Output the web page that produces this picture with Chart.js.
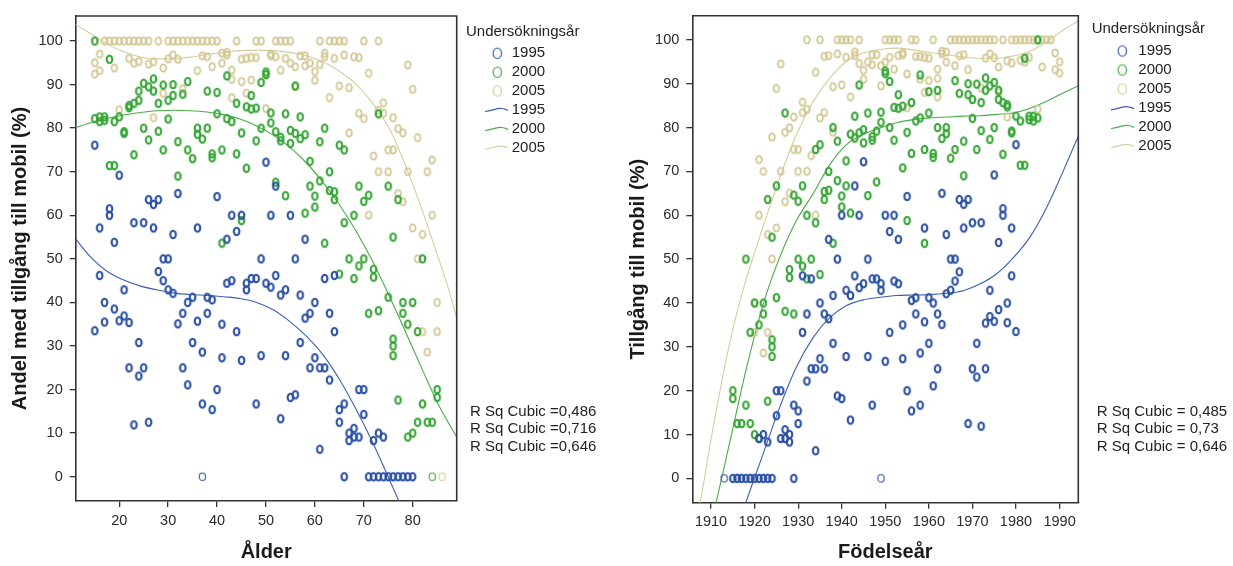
<!DOCTYPE html>
<html>
<head>
<meta charset="utf-8">
<script src="https://cdn.jsdelivr.net/npm/chart.js@4.4.1/dist/chart.umd.min.js"></script>
<style>
  body { margin: 0; background: #fff; }
  #wrap { position: relative; width: 1233px; height: 566px; }
  #ageChart { position: absolute; left: 0; top: 0; }
  #yearChart { position: absolute; left: 620px; top: 0; }
</style>
</head>
<body>
<div id="wrap">
  <canvas id="ageChart" width="620" height="566" style="width:620px;height:566px"></canvas>
  <canvas id="yearChart" width="613" height="566" style="width:613px;height:566px"></canvas>
</div>
<script>
// survey years and their fit statistics
const surveyYears = ['1995', '2000', '2005'];
const rsqAge = ['R Sq Cubic =0,486', 'R Sq Cubic =0,716', 'R Sq Cubic =0,646'];
const rsqYear = ['R Sq Cubic = 0,485', 'R Sq Cubic = 0,73', 'R Sq Cubic = 0,646'];

const ageTicks = [20, 30, 40, 50, 60, 70, 80];
const yearTicks = [1910, 1920, 1930, 1940, 1950, 1960, 1970, 1980, 1990];
const shareTicks = [0, 10, 20, 30, 40, 50, 60, 70, 80, 90, 100];

// [age, share %]
const blueAge = [[15,76.1],[15,33.5],[16,57.1],[16,46.2],[17,40],[17,35.5],[18,61.5],[18,60],[19,53.8],[19,38.5],[20,69.2],[20,35.8],[21,42.9],[21,36.9],[22,35.4],[22,25],[23,58.3],[23,11.9],[24,30.8],[24,23.1],[25,58.3],[25,25],[26,63.6],[26,12.5],[27,62.5],[27,57.1],[28,63.6],[28,47.1],[29,50],[29,45],[30,50],[30,42.9],[31,55.6],[31,42.1],[32,65],[32,35.1],[33,37.5],[33,25],[34,40],[34,21.1],[35,41.2],[35,30.8],[36,57.1],[36,35.7],[37,28.6],[37,16.7],[38,41.2],[38,37.5],[39,40.6],[39,15.4],[40,64.3],[40,20],[41,35],[41,27.3],[42,54.5],[42,44.4],[43,60],[43,45],[44,56.3],[44,33.3],[45,60],[45,26.7],[46,44.4],[46,42.9],[47,45.5],[48,45.5],[48,16.7],[49,50],[49,27.8],[50,72.2],[50,44.4],[51,60],[51,43.5],[52,66.7],[52,46.2],[53,41.7],[53,13.3],[54,42.9],[54,27.8],[55,60],[55,18.2],[56,50],[56,18.8],[57,41.7],[57,30.8],[58,54.5],[58,36.4],[59,37.5],[59,25],[60,40],[60,27.3],[61,25],[61,6.3],[62,45.5],[62,25],[63,37.5],[63,22.2],[64,46.2],[64,33.3],[65,15.4],[65,12.5],[66,16.7],[66,0],[67,10],[67,8.3],[68,11.1],[68,9.1],[69,20],[69,9.1],[70,20],[70,14.3],[71,0],[72,8.3],[72,0],[73,10],[73,0],[74,9.1],[74,0],[75,0],[76,0],[77,0],[78,0],[79,0],[80,0]];
const greenAge = [[15,100],[15,82.2],[16,82.6],[16,81.5],[17,82.6],[17,81.8],[18,95.8],[18,71.4],[19,81.5],[19,71.4],[20,82.6],[21,79.2],[21,78.8],[22,84.7],[22,85.2],[23,85.7],[23,73.9],[24,86.4],[24,88.5],[25,90.3],[25,80],[26,89.5],[26,77.3],[27,91.3],[27,88.5],[28,85.7],[28,79.3],[29,89.9],[29,75],[30,86.4],[30,82.1],[31,90],[31,87.5],[32,69],[32,76.9],[33,87.8],[34,90.7],[34,75],[35,73],[36,78.6],[36,80],[37,77.5],[38,88.5],[38,80],[39,74.1],[39,73.2],[40,88.2],[40,83.3],[41,75],[41,53.6],[42,82.2],[42,92],[43,81.5],[44,85.7],[44,74.1],[45,78.9],[45,58.8],[46,70.8],[46,84.9],[47,87.5],[47,84.4],[48,84.6],[48,77.1],[49,80],[49,90.5],[50,92.9],[50,92.3],[51,83.5],[51,81.2],[52,79.2],[52,67.6],[53,77.9],[53,77.1],[54,83.3],[54,64.5],[55,79.5],[55,76.5],[56,89.7],[56,78.8],[57,82.6],[57,77.6],[58,78.5],[58,60.5],[59,72.4],[59,66.7],[60,64.4],[60,61.9],[61,67.9],[61,76.9],[62,80],[62,53.6],[63,70],[63,65.7],[64,65.4],[64,63.6],[65,76.1],[65,46.5],[66,75],[66,58.3],[67,50],[68,60],[68,45.5],[69,66.7],[69,48.4],[70,63.2],[70,50],[71,64.6],[71,37.5],[72,47.6],[72,45.8],[73,83.3],[73,38.1],[75,66.7],[75,41.2],[76,55],[76,31.6],[76,30],[76,27.8],[77,63.6],[77,17.6],[78,40],[78,37.5],[79,35],[79,9.1],[80,40],[80,10],[81,33.3],[81,12.5],[82,50],[82,16.7],[83,12.5],[84,12.5],[85,20],[85,18.2]];
const tanAge = [[17,100],[18,100],[19,100],[20,100],[21,100],[22,100],[23,100],[24,100],[25,100],[26,100],[28,100],[30,100],[31,100],[32,100],[33,100],[34,100],[35,100],[36,100],[37,100],[38,100],[39,100],[40,100],[44,100],[48,100],[49,100],[52,100],[53,100],[54,100],[55,100],[61,100],[63,100],[64,100],[65,100],[66,100],[70,100],[73,100],
  [15,95],[15,92.4],[16,97],[16,93.2],[19,93.8],[20,84.2],[22,96],[23,94.9],[24,95.3],[26,94.7],[27,95.2],[27,82.4],[29,93.8],[29,88],[30,95.9],[31,96.8],[32,95.8],[33,89],[36,93.2],[37,96.6],[38,96.4],[39,94.1],[41,94.9],[41,97.2],[42,97.4],[42,96.8],[43,93.3],[43,91.2],[43,87],[45,90.7],[45,95.8],[46,96],[46,88],[47,96.2],[47,91],[48,96.2],[50,84.5],[50,92.2],[51,96.6],[51,97],[52,96.4],[53,93.3],[54,96],[55,94.9],[56,94.1],[56,89.5],[57,96.6],[58,96.6],[58,94.3],[59,94.9],[60,93],[60,91],[61,94.6],[62,97.2],[62,96.4],[63,87],[64,96],[65,89.7],[66,96.8],[67,89.3],[67,78.9],[68,96.4],[69,96.2],[69,83.4],[70,82.2],[71,92.6],[71,60],[72,73.6],[73,70],[73,84.1],[74,85.8],[74,83.4],[75,75],[75,70],[76,75],[76,82.4],[77,79.9],[77,65],[78,78.9],[78,63.1],[79,94.5],[79,70],[80,88.9],[80,57.1],[81,77.8],[81,50],[82,55.6],[82,33.3],[83,70],[83,28.6],[84,72.7],[84,60],[85,40],[85,33.3]];
// single answers drawn with a thin ring
const thinAge = [[[37,0]], [[84,0]], [[86,0]]];

// [birth year, share %]
const blueYear = [[1980,76.1],[1980,33.5],[1979,57.1],[1979,46.2],[1978,40],[1978,35.5],[1977,61.5],[1977,60],[1976,53.8],[1976,38.5],[1975,69.2],[1975,35.8],[1974,42.9],[1974,36.9],[1973,35.4],[1973,25],[1972,58.3],[1972,11.9],[1971,30.8],[1971,23.1],[1970,58.3],[1970,25],[1969,63.6],[1969,12.5],[1968,62.5],[1968,57.1],[1967,63.6],[1967,47.1],[1966,50],[1966,45],[1965,50],[1965,42.9],[1964,55.6],[1964,42.1],[1963,65],[1963,35.1],[1962,37.5],[1962,25],[1961,40],[1961,21.1],[1960,41.2],[1960,30.8],[1959,57.1],[1959,35.7],[1958,28.6],[1958,16.7],[1957,41.2],[1957,37.5],[1956,40.6],[1956,15.4],[1955,64.3],[1955,20],[1954,35],[1954,27.3],[1953,54.5],[1953,44.4],[1952,60],[1952,45],[1951,56.3],[1951,33.3],[1950,60],[1950,26.7],[1949,44.4],[1949,42.9],[1948,45.5],[1947,45.5],[1947,16.7],[1946,50],[1946,27.8],[1945,72.2],[1945,44.4],[1944,60],[1944,43.5],[1943,66.7],[1943,46.2],[1942,41.7],[1942,13.3],[1941,42.9],[1941,27.8],[1940,60],[1940,18.2],[1939,50],[1939,18.8],[1938,41.7],[1938,30.8],[1937,54.5],[1937,36.4],[1936,37.5],[1936,25],[1935,40],[1935,27.3],[1934,25],[1934,6.3],[1933,45.5],[1933,25],[1932,37.5],[1932,22.2],[1931,46.2],[1931,33.3],[1930,15.4],[1930,12.5],[1929,16.7],[1929,0],[1928,10],[1928,8.3],[1927,11.1],[1927,9.1],[1926,20],[1926,9.1],[1925,20],[1925,14.3],[1924,0],[1923,8.3],[1923,0],[1922,10],[1922,0],[1921,9.1],[1921,0],[1920,0],[1919,0],[1918,0],[1917,0],[1916,0],[1915,0]];
const greenYear = [[1985,100],[1985,82.2],[1984,82.6],[1984,81.5],[1983,82.6],[1983,81.8],[1982,95.8],[1982,71.4],[1981,81.5],[1981,71.4],[1980,82.6],[1979,79.2],[1979,78.8],[1978,84.7],[1978,85.2],[1977,85.7],[1977,73.9],[1976,86.4],[1976,88.5],[1975,90.3],[1975,80],[1974,89.5],[1974,77.3],[1973,91.3],[1973,88.5],[1972,85.7],[1972,79.3],[1971,89.9],[1971,75],[1970,86.4],[1970,82.1],[1969,90],[1969,87.5],[1968,69],[1968,76.9],[1967,87.8],[1966,90.7],[1966,75],[1965,73],[1964,78.6],[1964,80],[1963,77.5],[1962,88.5],[1962,80],[1961,74.1],[1961,73.2],[1960,88.2],[1960,83.3],[1959,75],[1959,53.6],[1958,82.2],[1958,92],[1957,81.5],[1956,85.7],[1956,74.1],[1955,78.9],[1955,58.8],[1954,70.8],[1954,84.9],[1953,87.5],[1953,84.4],[1952,84.6],[1952,77.1],[1951,80],[1951,90.5],[1950,92.9],[1950,92.3],[1949,83.5],[1949,81.2],[1948,79.2],[1948,67.6],[1947,77.9],[1947,77.1],[1946,83.3],[1946,64.5],[1945,79.5],[1945,76.5],[1944,89.7],[1944,78.8],[1943,82.6],[1943,77.6],[1942,78.5],[1942,60.5],[1941,72.4],[1941,66.7],[1940,64.4],[1940,61.9],[1939,67.9],[1939,76.9],[1938,80],[1938,53.6],[1937,70],[1937,65.7],[1936,65.4],[1936,63.6],[1935,76.1],[1935,46.5],[1934,75],[1934,58.3],[1933,50],[1932,60],[1932,45.5],[1931,66.7],[1931,48.4],[1930,63.2],[1930,50],[1929,64.6],[1929,37.5],[1928,47.6],[1928,45.8],[1927,83.3],[1927,38.1],[1925,66.7],[1925,41.2],[1924,55],[1924,31.6],[1924,30],[1924,27.8],[1923,63.6],[1923,17.6],[1922,40],[1922,37.5],[1921,35],[1921,9.1],[1920,40],[1920,10],[1919,33.3],[1919,12.5],[1918,50],[1918,16.7],[1917,12.5],[1916,12.5],[1915,20],[1915,18.2]];
const tanYear = [[1988,100],[1987,100],[1986,100],[1985,100],[1984,100],[1983,100],[1982,100],[1981,100],[1980,100],[1979,100],[1977,100],[1975,100],[1974,100],[1973,100],[1972,100],[1971,100],[1970,100],[1969,100],[1968,100],[1967,100],[1966,100],[1965,100],[1961,100],[1957,100],[1956,100],[1953,100],[1952,100],[1951,100],[1950,100],[1944,100],[1942,100],[1941,100],[1940,100],[1939,100],[1935,100],[1932,100],
  [1990,95],[1990,92.4],[1989,97],[1989,93.2],[1986,93.8],[1985,84.2],[1983,96],[1982,94.9],[1981,95.3],[1979,94.7],[1978,95.2],[1978,82.4],[1976,93.8],[1976,88],[1975,95.9],[1974,96.8],[1973,95.8],[1972,89],[1969,93.2],[1968,96.6],[1967,96.4],[1966,94.1],[1964,94.9],[1964,97.2],[1963,97.4],[1963,96.8],[1962,93.3],[1962,91.2],[1962,87],[1960,90.7],[1960,95.8],[1959,96],[1959,88],[1958,96.2],[1958,91],[1957,96.2],[1955,84.5],[1955,92.2],[1954,96.6],[1954,97],[1953,96.4],[1952,93.3],[1951,96],[1950,94.9],[1949,94.1],[1949,89.5],[1948,96.6],[1947,96.6],[1947,94.3],[1946,94.9],[1945,93],[1945,91],[1944,94.6],[1943,97.2],[1943,96.4],[1942,87],[1941,96],[1940,89.7],[1939,96.8],[1938,89.3],[1938,78.9],[1937,96.4],[1936,96.2],[1936,83.4],[1935,82.2],[1934,92.6],[1934,60],[1933,73.6],[1932,70],[1932,84.1],[1931,85.8],[1931,83.4],[1930,75],[1930,70],[1929,75],[1929,82.4],[1928,79.9],[1928,65],[1927,78.9],[1927,63.1],[1926,94.5],[1926,70],[1925,88.9],[1925,57.1],[1924,77.8],[1924,50],[1923,55.6],[1923,33.3],[1922,70],[1922,28.6],[1921,72.7],[1921,60],[1920,40],[1920,33.3]];
const thinYear = [[[1913,0],[1949,0]], [[1916,0]], [[1919,0]]];

// cubic fit curves, read along x
const blueFitAge = [[11.1,54.6],[14,50.6],[17.4,47.2],[20.8,45.2],[24.2,43.8],[27.6,42.9],[31,42.2],[34.5,41.8],[38,41.6],[41.3,41.3],[44.7,40.9],[48.1,40],[51.5,38.3],[54.9,35.6],[58.3,32.2],[61.7,27.9],[65.1,22.2],[68.5,15.3],[71.9,7.7],[75.3,-0.8],[77.1,-5.4],[78,-7.6]];
const greenFitAge = [[11.1,80.1],[14,81.2],[17.4,82.2],[20.8,83],[24.2,83.6],[27.6,84],[31,84.1],[34.5,84],[37.9,83.7],[41.3,83.1],[44.7,82.1],[48.1,80.5],[51.5,78.4],[54.9,75.6],[58.3,72],[61.7,67.5],[65.1,62.3],[68.5,56.2],[71.9,49.2],[75.4,41],[78.8,32.6],[82.2,24],[85.6,15.8],[89,9.1]];
const tanFitAge = [[11.1,103.8],[14,101.8],[17.4,99.4],[20.8,97.6],[24.2,96.4],[27.6,95.9],[31,95.9],[34.5,96.3],[37.9,96.9],[41.3,97.4],[44.7,97.8],[48.1,97.9],[51.5,97.8],[54.9,97.4],[58.3,96.6],[61.7,95.2],[65.1,93],[68.5,90],[71.5,86.2],[75.4,79.5],[79.2,69.5],[82,61],[84.4,53],[86.8,45],[89,36.5]];
const blueFitYear = [[1916.5,-10],[1918.2,-4.9],[1922,5.7],[1925.8,16.3],[1929.6,25.4],[1933.5,32.2],[1937.3,36.7],[1941.1,39.4],[1944.9,40.7],[1948.8,41.3],[1952.6,41.7],[1956.4,41.8],[1960.2,41.9],[1964,42.2],[1967.9,42.8],[1971.7,44.3],[1975.5,46.6],[1979.3,50.2],[1983.2,55],[1987,61.7],[1990.8,70],[1994.3,78]];
const greenFitYear = [[1910,-10],[1911.3,-4.9],[1914.4,8.7],[1918.2,25.4],[1922,39.8],[1925.8,50.5],[1929.6,58.8],[1933.5,65],[1937.3,71.6],[1941.1,76.1],[1944.9,78.4],[1948.8,79.9],[1952.6,81.1],[1956.4,81.8],[1960.2,82.2],[1964,82.4],[1967.9,82.6],[1971.7,82.7],[1975.5,83],[1979.3,83.3],[1983.2,84.4],[1987,86],[1990.8,87.9],[1994.3,89.5]];
const tanFitYear = [[1906.5,-10],[1907.6,-4.9],[1910.5,11.7],[1914.4,31.4],[1917.5,43.5],[1920.5,53],[1925.8,68.6],[1929.6,78.4],[1933.5,86],[1937.3,91.3],[1941.1,95.1],[1944.9,97],[1948.8,97.8],[1952.6,98.1],[1956.4,97.7],[1960.2,97.1],[1964,96.6],[1967.9,96.1],[1971.7,95.8],[1975.5,95.8],[1979.3,96.3],[1983.2,97.4],[1987,99.5],[1990.8,102.2],[1994.3,104.3]];

const pointColors = ['#2a50a4', '#36a636', '#d2c792'];
const lineColors = ['#3c5fb2', '#47ad47', '#d7cd9e'];
const FONT = '"Liberation Sans", Arial, sans-serif';

// open elliptic marker, slightly taller than wide
function ring(color, lw, rx, ry) {
  const c = document.createElement('canvas');
  c.width = Math.round(rx * 2 + lw + 3);
  c.height = Math.round(ry * 2 + lw + 3);
  const g = c.getContext('2d');
  g.strokeStyle = color;
  g.lineWidth = lw;
  g.beginPath();
  g.ellipse(c.width / 2, c.height / 2, rx, ry, 0, 0, Math.PI * 2);
  g.stroke();
  return c;
}
const boldRings = [ring(pointColors[0], 2.1, 2.8, 3.7), ring(pointColors[1], 2.1, 2.8, 3.7), ring(pointColors[2], 1.8, 2.8, 3.7)];
const thinRings = pointColors.map(c => ring(c, 1.1, 3.2, 3.8));
const keyRings = pointColors.map(c => ring(c, 1.1, 4.2, 5.3));

const toXY = arr => arr.map(p => ({ x: p[0], y: p[1] }));

function pointSet(data, style) {
  return { type: 'scatter', data: toXY(data), pointStyle: style, pointRadius: 4, showLine: false };
}
function fitSet(data, color) {
  return {
    type: 'line', data: toXY(data), borderColor: color, borderWidth: 1.1,
    pointRadius: 0, fill: false, cubicInterpolationMode: 'monotone'
  };
}

// top and right edges of the plot box
const frame = {
  id: 'frame',
  afterDatasetsDraw(chart) {
    const { ctx, chartArea: a } = chart;
    ctx.save();
    ctx.strokeStyle = '#333';
    ctx.lineWidth = 1.6;
    ctx.beginPath();
    ctx.moveTo(a.left, a.top);
    ctx.lineTo(a.right, a.top);
    ctx.lineTo(a.right, a.bottom);
    ctx.stroke();
    ctx.restore();
  }
};

function wave(ctx, x0, x1, y, color) {
  const w = x1 - x0;
  ctx.strokeStyle = color;
  ctx.lineWidth = 1.2;
  ctx.beginPath();
  ctx.moveTo(x0, y + 1.5);
  ctx.bezierCurveTo(x0 + w * 0.35, y + 0.5, x0 + w * 0.55, y - 2.5, x0 + w * 0.75, y - 1.5);
  ctx.quadraticCurveTo(x0 + w * 0.9, y - 1, x1, y + 0.5);
  ctx.stroke();
}

// legend and R-square notes beside the plot
const keyBox = {
  id: 'keyBox',
  afterDraw(chart, args, o) {
    const ctx = chart.ctx;
    ctx.save();
    ctx.font = '15px ' + FONT;
    ctx.fillStyle = '#222';
    ctx.textAlign = 'left';
    ctx.textBaseline = 'middle';
    ctx.fillText('Undersökningsår', o.titleX, o.titleY);
    surveyYears.forEach((yr, i) => {
      const r = keyRings[i];
      ctx.drawImage(r, o.ringX - r.width / 2, o.rows[i] - r.height / 2);
      ctx.fillText(yr, o.textX, o.rows[i]);
      wave(ctx, o.lineX0, o.lineX1, o.rows[i + 3], lineColors[i]);
      ctx.fillText(yr, o.textX, o.rows[i + 3]);
    });
    o.rsq.forEach((t, i) => ctx.fillText(t, o.rsqX, o.rsqY[i]));
    ctx.restore();
  }
};

function panel(id, p) {
  const tickFont = { family: FONT, size: 14.5 };
  const titleFont = { family: FONT, size: 20, weight: 'bold' };
  const datasets = [
    pointSet(p.points[0], boldRings[0]),
    pointSet(p.points[1], boldRings[1]),
    pointSet(p.points[2], boldRings[2]),
    pointSet(p.thin[0], thinRings[0]),
    pointSet(p.thin[1], thinRings[1]),
    pointSet(p.thin[2], thinRings[2]),
    fitSet(p.fits[0], lineColors[0]),
    fitSet(p.fits[1], lineColors[1]),
    fitSet(p.fits[2], lineColors[2])
  ];
  return new Chart(document.getElementById(id), {
    type: 'scatter',
    data: { datasets },
    options: {
      responsive: false,
      animation: false,
      events: [],
      layout: { padding: { left: 0, top: p.top, right: p.right, bottom: 0 } },
      plugins: { legend: { display: false }, tooltip: { enabled: false }, keyBox: p.key },
      scales: {
        x: {
          type: 'linear', min: p.xMin, max: p.xMax,
          afterBuildTicks: s => { s.ticks = p.xTicks.map(v => ({ value: v })); },
          afterFit: s => { s.height = p.xHeight; },
          grid: { display: true, drawOnChartArea: false, drawTicks: true, tickLength: 6, color: '#333', lineWidth: 1.3 },
          border: { display: true, color: '#333', width: 1.6 },
          ticks: { color: '#2b2b2b', font: tickFont, padding: 5, maxRotation: 0, autoSkip: false, callback: v => String(v) },
          title: { display: true, text: p.xTitle, color: '#1a1a1a', font: titleFont, padding: { top: 0, bottom: 2 } }
        },
        y: {
          type: 'linear', min: p.yMin, max: p.yMax,
          afterBuildTicks: s => { s.ticks = shareTicks.map(v => ({ value: v })); },
          afterFit: s => { s.width = p.yWidth; },
          grid: { display: true, drawOnChartArea: false, drawTicks: true, tickLength: 6, color: '#333', lineWidth: 1.3 },
          border: { display: true, color: '#333', width: 1.6 },
          ticks: { color: '#2b2b2b', font: tickFont, padding: 7, autoSkip: false },
          title: { display: true, text: p.yTitle, color: '#1a1a1a', font: titleFont, padding: { top: p.yTitlePad, bottom: 0 } }
        }
      }
    },
    plugins: [frame, keyBox]
  });
}

panel('ageChart', {
  points: [blueAge, greenAge, tanAge], thin: thinAge, fits: [blueFitAge, greenFitAge, tanFitAge],
  xMin: 11.1, xMax: 89, xTicks: ageTicks, yMin: -5.58, yMax: 105.74,
  top: 16, right: 163.3, xHeight: 65, yWidth: 75.7, yTitlePad: 8,
  xTitle: 'Ålder', yTitle: 'Andel med tillgång till mobil (%)',
  key: {
    titleX: 466, titleY: 31.7, ringX: 497.3, textX: 511.7, lineX0: 485, lineX1: 508,
    rows: [53.3, 72.3, 91, 110, 129, 147.7],
    rsq: rsqAge, rsqX: 470, rsqY: [411.7, 429.3, 446.7]
  }
});

panel('yearChart', {
  points: [blueYear, greenYear, tanYear], thin: thinYear, fits: [blueFitYear, greenFitYear, tanFitYear],
  xMin: 1905.7, xMax: 1994.3, xTicks: yearTicks, yMin: -5.55, yMax: 105.5,
  top: 14.1, right: 154.7, xHeight: 63.3, yWidth: 72.3, yTitlePad: 6,
  xTitle: 'Födelseår', yTitle: 'Tillgång till mobil (%)',
  key: {
    titleX: 471.7, titleY: 29, ringX: 502.3, textX: 518.3, lineX0: 491, lineX1: 514,
    rows: [51, 70, 89, 108.3, 127, 146],
    rsq: rsqYear, rsqX: 476.7, rsqY: [411.7, 429.3, 446.7]
  }
});
</script>
</body>
</html>
